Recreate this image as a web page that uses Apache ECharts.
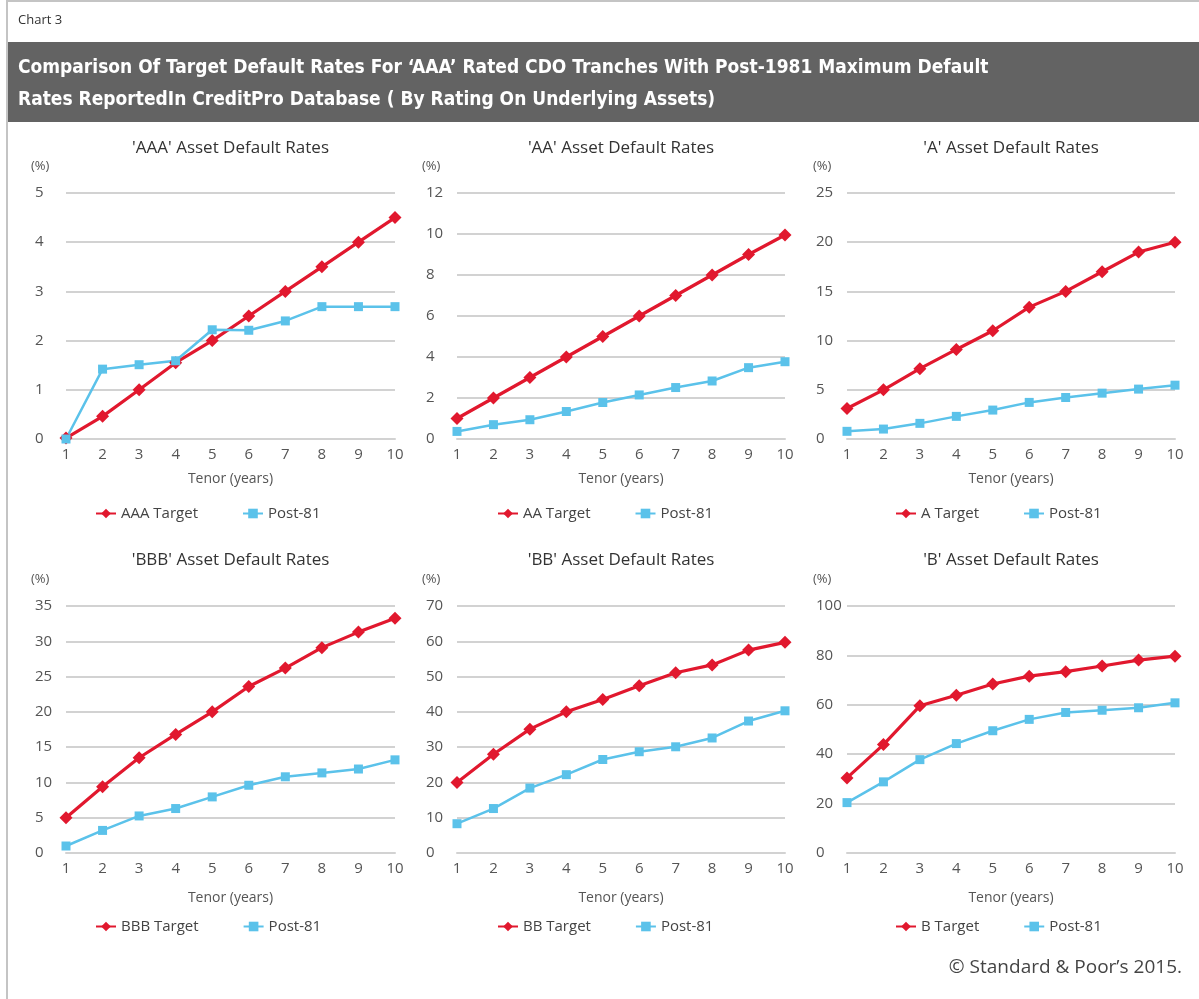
<!DOCTYPE html>
<html><head><meta charset="utf-8">
<script src="https://cdn.jsdelivr.net/npm/echarts@6/dist/echarts.min.js"></script>
<style>html,body{margin:0;padding:0;background:#fff}#c{width:1199px;height:999px}</style>
</head><body><div id="c"></div>
<script>
// ---- data ----
const tenors = ['1','2','3','4','5','6','7','8','9','10'];
const panelTitles = ["'AAA' Asset Default Rates","'AA' Asset Default Rates","'A' Asset Default Rates","'BBB' Asset Default Rates","'BB' Asset Default Rates","'B' Asset Default Rates"];
const targetNames = ['AAA Target','AA Target','A Target','BBB Target','BB Target','B Target'];
const postName = 'Post-81';
const targetAAA = [0.02,0.46,1.0,1.55,2.0,2.5,3.0,3.5,4.0,4.5];
const postAAA   = [0.0,1.42,1.51,1.59,2.22,2.21,2.40,2.69,2.69,2.69];
const targetAA  = [1.0,2.0,3.0,4.0,5.0,6.0,7.0,8.0,9.0,9.95];
const postAA    = [0.37,0.70,0.94,1.34,1.78,2.15,2.51,2.83,3.48,3.77];
const targetA   = [3.1,5.0,7.15,9.1,11.0,13.4,15.0,17.0,19.0,20.0];
const postA     = [0.78,1.01,1.59,2.30,2.94,3.72,4.22,4.66,5.07,5.47];
const targetBBB = [5.0,9.4,13.5,16.8,20.0,23.6,26.2,29.1,31.3,33.25];
const postBBB   = [0.99,3.2,5.25,6.3,7.95,9.6,10.8,11.35,11.9,13.2];
const targetBB  = [20.0,28.0,35.1,40.0,43.5,47.4,51.1,53.3,57.5,59.7];
const postBB    = [8.3,12.6,18.4,22.2,26.5,28.7,30.1,32.6,37.4,40.3];
const targetB   = [30.4,43.9,59.6,63.9,68.4,71.6,73.4,75.7,78.1,79.7];
const postB     = [20.4,28.8,37.8,44.3,49.5,54.1,56.9,57.8,58.8,60.8];
const yMax      = [5,12,25,35,70,100];
const yInterval = [1,2,5,5,10,20];
const yUnit = '(%)';
const xName = 'Tenor (years)';
const chartLabel = 'Chart 3';
const headerLines = ["Comparison Of Target Default Rates For \u2018AAA\u2019 Rated CDO Tranches With Post-1981 Maximum Default",
                     "Rates ReportedIn CreditPro Database ( By Rating On Underlying Assets)"];
const copyright = '\u00A9 Standard & Poor\u2019s 2015.';

const targets = [targetAAA,targetAA,targetA,targetBBB,targetBB,targetB];
const posts = [postAAA,postAA,postA,postBBB,postBB,postB];

// ---- layout ----
const colLeft = [66, 457, 847];
const colWidth = [329, 328, 328];
const rowTop = [193, 606];
const rowHeight = [246, 247];
const rowTitleY = [148, 560];
const rowUnitY = [166, 579];
const rowLegendTop = [506, 919];
const rowNameGap = [33, 38];
const colUnitX = [31, 422, 813];
const colLegendLeft = [95, 497, 895];

const RED = '#e1182e', BLUE = '#5bc2ea';
const FONT = "'Open Sans', 'DejaVu Sans', sans-serif";
const NARROW = "'Liberation Sans Narrow', 'DejaVu Sans Condensed', 'Roboto Condensed', sans-serif";

const grid = [], xAxis = [], yAxis = [], series = [], legend = [], graphic = [];

graphic.push({type:'line', shape:{x1:7,y1:0,x2:7,y2:999}, style:{stroke:'#c4c4c4', lineWidth:2}});
graphic.push({type:'line', shape:{x1:7,y1:1,x2:1199,y2:1}, style:{stroke:'#c4c4c4', lineWidth:2}});
graphic.push({type:'text', x:18, y:20, style:{text:chartLabel, fontSize:13, fill:'#333', fontFamily:FONT, textVerticalAlign:'middle'}});
graphic.push({type:'rect', shape:{x:8,y:42,width:1191,height:80}, style:{fill:'#636363'}});
graphic.push({type:'text', x:18, y:68, style:{text:headerLines[0], fontSize:19, fontWeight:'bold', fill:'#fff', fontFamily:NARROW, textVerticalAlign:'middle'}});
graphic.push({type:'text', x:18, y:100, style:{text:headerLines[1], fontSize:19, fontWeight:'bold', fill:'#fff', fontFamily:NARROW, textVerticalAlign:'middle'}});
graphic.push({type:'text', x:1182, y:968, style:{text:copyright, fontSize:19, fill:'#444', fontFamily:FONT, textAlign:'right', textVerticalAlign:'middle'}});

for (let i = 0; i < 6; i++) {
  const r = Math.floor(i/3), c = i%3;
  grid.push({left:colLeft[c], top:rowTop[r], width:colWidth[c], height:rowHeight[r]});
  xAxis.push({
    gridIndex:i, type:'category', data:tenors, boundaryGap:false,
    axisLine:{show:true, lineStyle:{color:'#d2d2d2', width:2}},
    axisTick:{show:false},
    axisLabel:{color:'#555', fontSize:15, margin:8, fontFamily:FONT},
    name:xName, nameLocation:'middle', nameGap:rowNameGap[r],
    nameTextStyle:{color:'#555', fontSize:14, fontFamily:FONT}
  });
  yAxis.push({
    gridIndex:i, type:'value', min:0, max:yMax[i], interval:yInterval[i],
    axisLine:{show:false}, axisTick:{show:false},
    axisLabel:{color:'#555', fontSize:15, margin:31, align:'left', fontFamily:FONT},
    splitLine:{lineStyle:{color:'#d2d2d2', width:2}}
  });
  series.push({
    type:'line', name:targetNames[i], xAxisIndex:i, yAxisIndex:i, data:targets[i],
    symbol:'diamond', symbolSize:13, color:RED, lineStyle:{width:3.2, color:RED},
    itemStyle:{color:RED}, animation:false
  });
  series.push({
    type:'line', name:postName, xAxisIndex:i, yAxisIndex:i, data:posts[i],
    symbol:'rect', symbolSize:9, color:BLUE, lineStyle:{width:2.5, color:BLUE},
    itemStyle:{color:BLUE}, animation:false
  });
  legend.push({
    data:[targetNames[i], postName], left:colLegendLeft[c], top:rowLegendTop[r],
    padding:0, itemWidth:20, itemHeight:12, itemGap:44, selectedMode:false,
    textStyle:{color:'#444', fontSize:15, fontFamily:FONT}
  });
  graphic.push({type:'text', x:colLeft[c] + colWidth[c]/2, y:rowTitleY[r],
    style:{text:panelTitles[i], fontSize:17, fill:'#333', fontFamily:FONT, textAlign:'center', textVerticalAlign:'middle'}});
  graphic.push({type:'text', x:colUnitX[c], y:rowUnitY[r],
    style:{text:yUnit, fontSize:13, fill:'#555', fontFamily:FONT, textVerticalAlign:'middle'}});
}

const chart = echarts.init(document.getElementById('c'), null, {renderer:'canvas'});
chart.setOption({backgroundColor:'#fff', animation:false, grid, xAxis, yAxis, series, legend, graphic});
</script></body></html>
